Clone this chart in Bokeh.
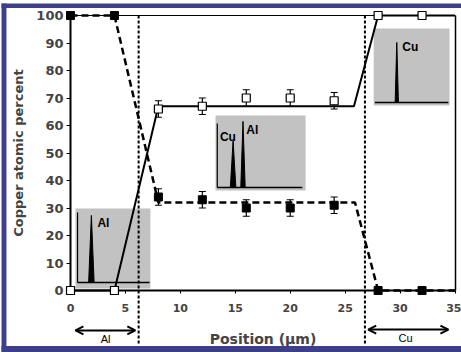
from bokeh.plotting import figure
from bokeh.models import (Range1d, LinearAxis, FixedTicker, ColumnDataSource,
                          Whisker, TeeHead, Arrow, OpenHead, BoxAnnotation)
from bokeh.core.properties import value
from bokeh.embed import file_html
from bokeh.resources import INLINE

# ---------------- data ----------------
position = [0, 4, 8, 12, 16, 20, 24, 28, 32]
cu_series = [0, 0, 66, 67, 70, 70, 69, 100, 100]      # open squares
al_series = [100, 100, 34, 33, 30, 30, 31, 0, 0]      # filled squares

err_position = [8, 12, 16, 20, 24]
cu_err_values = [66, 67, 70, 70, 69]
al_err_values = [34, 33, 30, 30, 31]
err_size = [3, 3, 3, 3, 3]

cu_fit_x = [0, 4, 8, 25.8, 28, 35]
cu_fit_y = [0, 0, 67, 67, 100, 100]
al_fit_x = [0, 4, 8, 25.9, 28, 35]
al_fit_y = [100, 100, 32, 32, 0, 0]

interfaces = [6.2, 26.8]

x_ticks = [0, 5, 10, 15, 20, 25, 30, 35]
y_ticks = [0, 10, 20, 30, 40, 50, 60, 70, 80, 90, 100]

# EDS spectrum insets
inset_left = [0.45, 13.2, 27.6]
inset_right = [7.27, 21.4, 34.5]
inset_bottom = [0.7, 36.4, 67.3]
inset_top = [29.8, 63.6, 95.3]
base_x0 = [0.64, 13.36, 27.7]
base_x1 = [7.2, 21.1, 34.4]
base_y = [2.9, 37.5, 68.4]
spec_axis_x = [0.64, 13.36]
spec_axis_y0 = [2.9, 37.5]
spec_axis_y1 = [28.4, 60.7]
peak_x = [1.9, 14.8, 15.7, 29.7]
peak_base = [2.9, 37.5, 37.5, 68.4]
peak_top = [27.3, 54.5, 61.5, 90.2]
peak_hw = [0.25, 0.25, 0.2, 0.15]
peak_labels = ["Al", "Cu", "Al", "Cu"]
peak_label_x = [2.45, 13.6, 16.0, 30.2]
peak_label_y = [24.5, 56, 58.5, 88.4]

# region arrows
region_x0 = [0.45, 27.1]
region_x1 = [5.9, 34.4]
region_y = [-14.5, -14.2]
region_labels = ["Al", "Cu"]
region_label_x = [3.2, 30.5]
region_label_y = [-17.8, -17.3]

# ---------------- figure ----------------
# the plot frame covers the whole canvas; all axes are placed at fixed data locations
p = figure(width=461, height=352,
           x_range=Range1d(-6.372, 35.59), y_range=Range1d(-22.545, 105.455),
           output_backend="svg", toolbar_location=None,
           x_axis_type=None, y_axis_type=None,
           min_border_left=0, min_border_right=0, min_border_top=0, min_border_bottom=0)
p.outline_line_color = None
p.xgrid.visible = False
p.ygrid.visible = False
p.background_fill_color = "white"
p.border_fill_color = "white"

xaxis = LinearAxis(ticker=FixedTicker(ticks=x_ticks), fixed_location=0, bounds=(0, 35),
                   axis_label="Position (\u00b5m)")
xaxis.axis_line_width = 2
xaxis.major_tick_out = 3
xaxis.major_tick_in = 0
xaxis.minor_tick_out = 0
xaxis.minor_tick_in = 0
xaxis.major_label_standoff = 10
xaxis.major_label_text_font = "DejaVu Sans"
xaxis.major_label_text_font_style = "bold"
xaxis.major_label_text_font_size = "11px"
xaxis.axis_label_text_font = "DejaVu Sans"
xaxis.axis_label_text_font_style = "bold"
xaxis.axis_label_text_font_size = "14px"
xaxis.axis_label_standoff = 16
p.add_layout(xaxis, "below")

yaxis = LinearAxis(ticker=FixedTicker(ticks=y_ticks), fixed_location=0, bounds=(0, 100),
                   axis_label="Copper atomic percent")
yaxis.axis_line_width = 2
yaxis.major_tick_out = 4
yaxis.major_tick_in = 0
yaxis.minor_tick_out = 0
yaxis.minor_tick_in = 0
yaxis.major_label_standoff = 3
yaxis.major_label_text_font = "DejaVu Sans"
yaxis.major_label_text_font_style = "bold"
yaxis.major_label_text_font_size = "13px"
yaxis.axis_label_text_font = "DejaVu Sans"
yaxis.axis_label_text_font_style = "bold"
yaxis.axis_label_text_font_size = "13px"
yaxis.axis_label_standoff = 7
p.add_layout(yaxis, "left")


def rule(side, loc, bounds, width, color="black"):
    """Axis used only as a plain rule (no ticks, no labels)."""
    ax = LinearAxis(ticker=FixedTicker(ticks=[]), fixed_location=loc, bounds=bounds)
    ax.axis_line_width = width
    ax.axis_line_color = color
    ax.major_tick_out = 0
    ax.minor_tick_out = 0
    p.add_layout(ax, side)


# box top and right edge
rule("above", 100, (0, 35), 1.2)
rule("right", 35, (0, 100), 1.5)

# blue page frame of the original figure
frame_color = "#3d3e92"
p.add_layout(BoxAnnotation(left=-6.28, right=-5.83, top=104.4, bottom=-22.545,
                           fill_color=frame_color, fill_alpha=1, line_color=None))
p.add_layout(BoxAnnotation(left=-6.28, right=35.59, top=104.4, bottom=102.7,
                           fill_color=frame_color, fill_alpha=1, line_color=None))
p.add_layout(BoxAnnotation(left=-6.28, right=35.59, top=-20.2, bottom=-22.545,
                           fill_color=frame_color, fill_alpha=1, line_color=None))

# insets
p.quad(left=inset_left, right=inset_right, bottom=inset_bottom, top=inset_top,
       fill_color="#c2c2c2", line_color=None)
p.segment(x0=base_x0, x1=base_x1, y0=base_y, y1=base_y, line_color="black", line_width=1.5)
p.segment(x0=spec_axis_x, x1=spec_axis_x, y0=spec_axis_y0, y1=spec_axis_y1,
          line_color="black", line_width=1.2)
peak_xs = [[x - w, x, x + w] for x, w in zip(peak_x, peak_hw)]
peak_ys = [[b, t, b] for b, t in zip(peak_base, peak_top)]
p.patches(xs=peak_xs, ys=peak_ys, fill_color="black", line_color="black", line_width=1)
p.text(x=peak_label_x, y=peak_label_y, text=peak_labels, text_font=value("Liberation Sans"),
       text_font_style="bold", text_font_size="12px", text_baseline="middle", text_align="left",
       text_color="black")

# interface lines
p.segment(x0=interfaces, x1=interfaces, y0=[100, 100], y1=[-20, -20],
          line_color="black", line_width=2, line_dash="3 2")

# fitted profiles
p.line(cu_fit_x, cu_fit_y, line_color="black", line_width=2)
p.line(al_fit_x, al_fit_y, line_color="black", line_width=2.5, line_dash="7 4")

# error bars
src_cu = ColumnDataSource(dict(x=err_position,
                               lower=[v - e for v, e in zip(cu_err_values, err_size)],
                               upper=[v + e for v, e in zip(cu_err_values, err_size)]))
src_al = ColumnDataSource(dict(x=err_position,
                               lower=[v - e for v, e in zip(al_err_values, err_size)],
                               upper=[v + e for v, e in zip(al_err_values, err_size)]))
for src in (src_cu, src_al):
    w = Whisker(source=src, base="x", lower="lower", upper="upper", dimension="height",
                line_color="black", line_width=1.2,
                upper_head=TeeHead(size=7, line_width=1.2, line_color="black"),
                lower_head=TeeHead(size=7, line_width=1.2, line_color="black"))
    p.add_layout(w)

# points
p.scatter(position, cu_series, marker="square", size=8, fill_color="white",
          line_color="black", line_width=1.2, level="overlay")
p.scatter(position, al_series, marker="square", size=8, fill_color="black",
          line_color="black", line_width=1, level="overlay")

# region arrows
for x0, x1, y in zip(region_x0, region_x1, region_y):
    p.add_layout(Arrow(x_start=x0, x_end=x1, y_start=y, y_end=y, line_width=2, line_color="black",
                       start=OpenHead(size=8, line_width=2, line_color="black"),
                       end=OpenHead(size=8, line_width=2, line_color="black")))
p.text(x=region_label_x, y=region_label_y, text=region_labels, text_font=value("Liberation Sans"),
       text_font_size="11px", text_baseline="middle", text_align="center", text_color="black")

open("out.html", "w").write(file_html(p, INLINE))
